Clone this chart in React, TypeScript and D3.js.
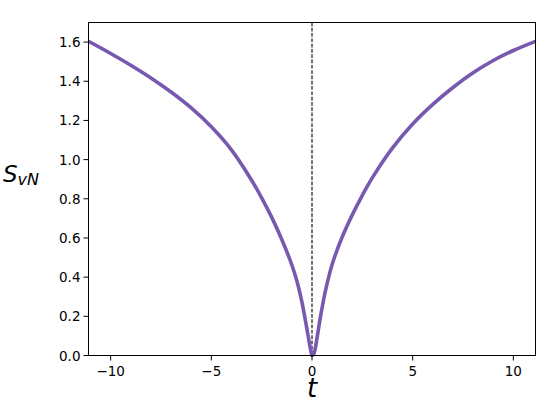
import React from "react";
import * as d3 from "d3";

const tValues = [
  -11.1, -10, -9, -8, -7, -6, -5, -4, -3, -2.5, -2, -1.5, -1, -0.75, -0.5, -0.35, -0.25, -0.18, -0.1, -0.05, 0,
  0.08, 0.15, 0.25, 0.45, 0.7, 1, 1.5, 2, 2.5, 3, 4, 5, 6, 7, 8, 9, 10, 11.1,
];
const sValues = [
  1.604, 1.542, 1.482, 1.417, 1.345, 1.264, 1.168, 1.05, 0.895, 0.805, 0.705, 0.592, 0.462, 0.38, 0.273, 0.192, 0.135, 0.093, 0.045, 0.02, 0,
  0.006, 0.03, 0.09, 0.215, 0.345, 0.465, 0.605, 0.718, 0.818, 0.908, 1.06, 1.182, 1.282, 1.368, 1.443, 1.506, 1.557, 1.604,
];
const xTicks = [-10, -5, 0, 5, 10];
const yTicks = [0, 0.2, 0.4, 0.6, 0.8, 1.0, 1.2, 1.4, 1.6];

const W = 558;
const H = 402;
const left = 88.5;
const right = 535.5;
const top = 22.5;
const bottom = 355.5;

export default function App() {
  const x = d3.scaleLinear().domain([-11.1, 11.1]).range([left, right]);
  const y = d3.scaleLinear().domain([0, 1.7]).range([bottom, top]);
  const pts = tValues.map((t, i) => [t, sValues[i]] as [number, number]);
  const line = d3
    .line<[number, number]>()
    .x((d) => x(d[0]))
    .y((d) => y(d[1]))
    .curve(d3.curveCatmullRom.alpha(0.5));
  const fmtMinus = (v: number) => (v < 0 ? "\u2212" + Math.abs(v) : String(v));
  const font = "'DejaVu Sans', sans-serif";
  return (
    <svg
      width={W}
      height={H}
      style={{ position: "absolute", left: 0, top: 0, background: "#fff" }}
      fontFamily={font}
    >
      <defs>
        <clipPath id="plot">
          <rect x={left} y={top - 2} width={right - left} height={bottom - top + 4} />
        </clipPath>
      </defs>
      <line x1={x(0)} x2={x(0)} y1={top} y2={bottom} stroke="#000" strokeWidth={1.1} strokeDasharray="3.7,1.6" />
      <path d={line(pts) || ""} fill="none" stroke="#775ab0" strokeWidth={3.6} clipPath="url(#plot)" strokeLinejoin="round" />
      <rect x={left} y={top} width={right - left} height={bottom - top} fill="none" stroke="#000" strokeWidth={1} />
      {xTicks.map((t) => (
        <g key={"x" + t}>
          <line x1={x(t)} x2={x(t)} y1={bottom} y2={bottom + 5} stroke="#000" strokeWidth={1} />
          <text x={x(t)} y={bottom + 20} textAnchor="middle" fontSize={13.5} fill="#000">
            {fmtMinus(t)}
          </text>
        </g>
      ))}
      {yTicks.map((v) => (
        <g key={"y" + v}>
          <line x1={left - 5} x2={left} y1={y(v)} y2={y(v)} stroke="#000" strokeWidth={1} />
          <text x={left - 8} y={y(v) + 5} textAnchor="end" fontSize={13.5} fill="#000">
            {v.toFixed(1)}
          </text>
        </g>
      ))}
      <text x={x(0)} y={397} textAnchor="middle" fontSize={26} fontStyle="italic" fill="#000">
        t
      </text>
      <text x={3} y={182} fontSize={23} fontStyle="italic" fill="#000">
        S
        <tspan fontSize={16} dy={3}>vN</tspan>
      </text>
    </svg>
  );
}
